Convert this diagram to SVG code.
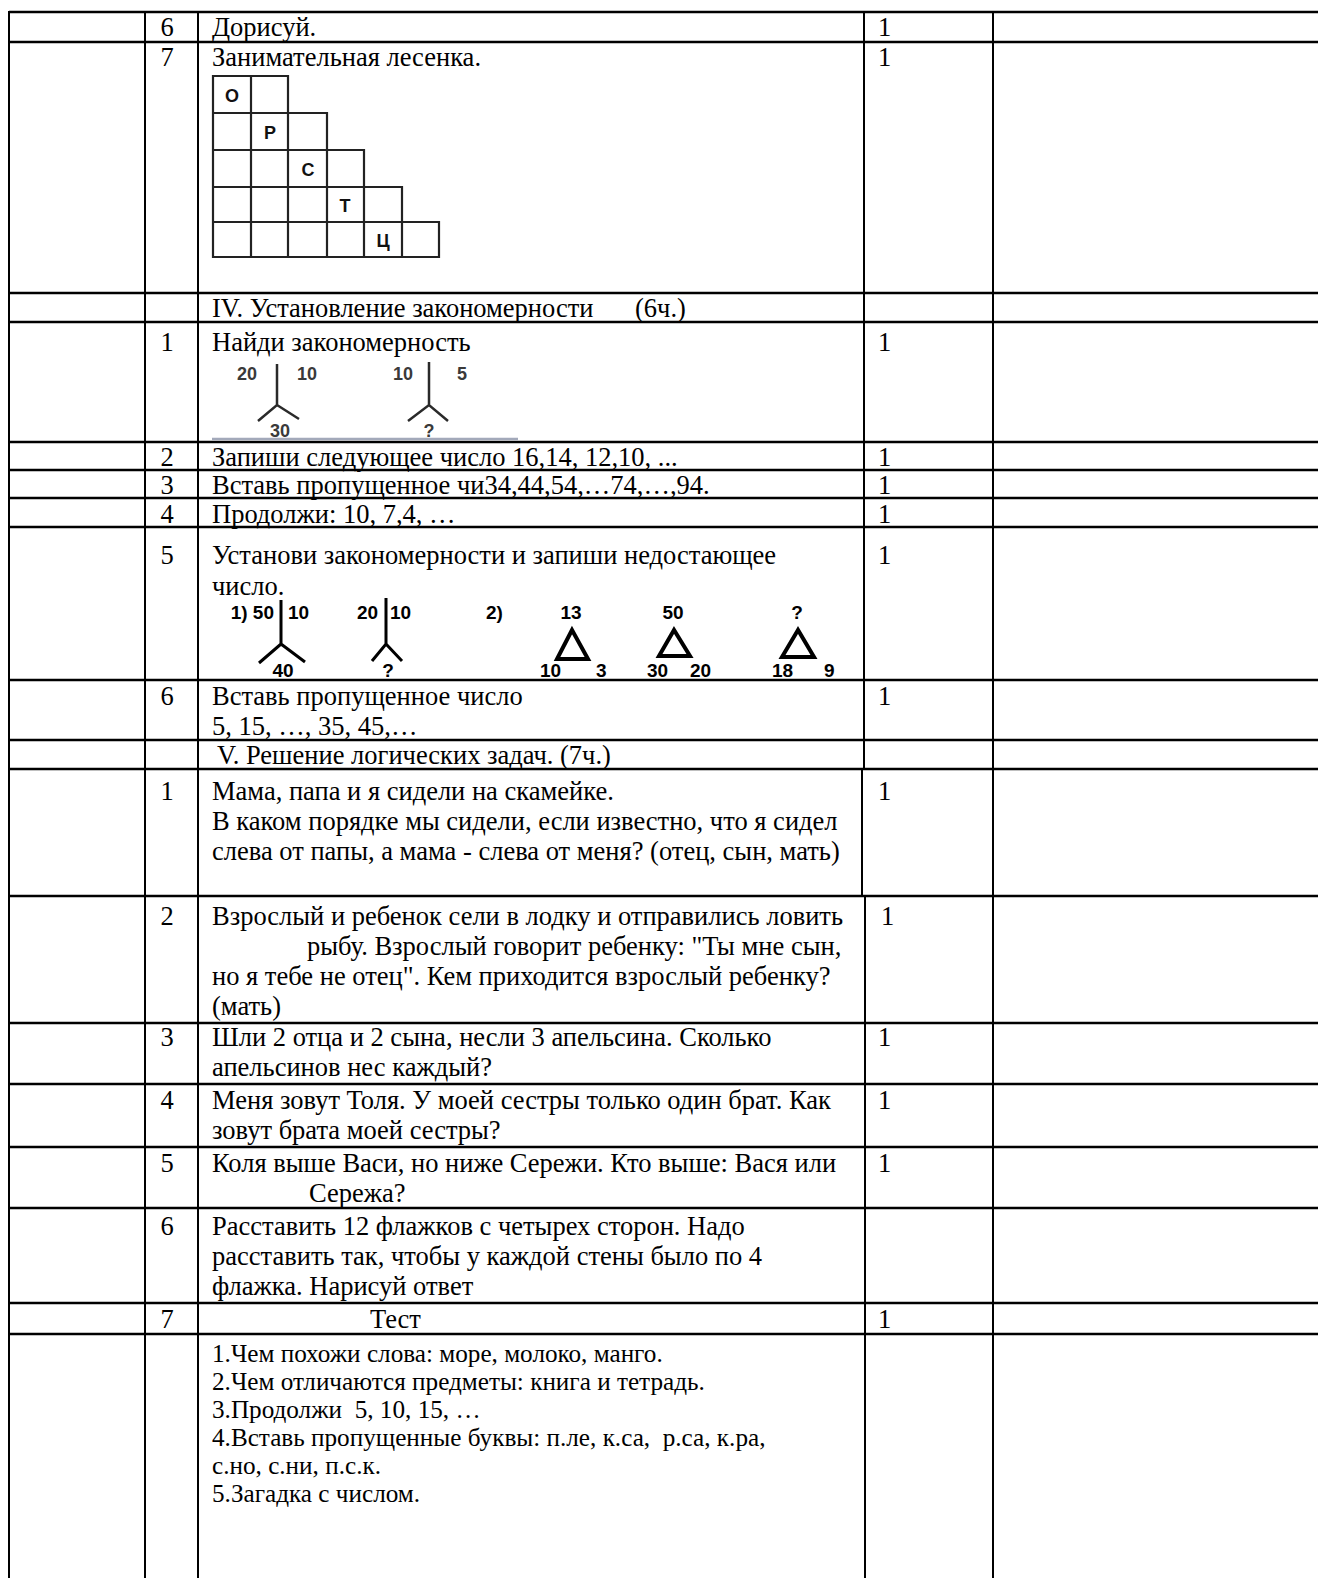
<svg xmlns="http://www.w3.org/2000/svg" width="1318" height="1578" viewBox="0 0 1318 1578">
<style>
.t{font-family:"Liberation Serif","Times New Roman",serif;font-size:26.5px;fill:#000;white-space:pre}
.l{font-family:"Liberation Serif","Times New Roman",serif;font-size:25.2px;fill:#000;white-space:pre}
.n{font-family:"Liberation Serif","Times New Roman",serif;font-size:26.5px;fill:#000;text-anchor:middle}
.h line{stroke:#000;stroke-width:2.5}
.v line{stroke:#000;stroke-width:2}
.st{fill:none;stroke:#222;stroke-width:2.2}
.sl{font-family:"Liberation Sans",Arial,sans-serif;font-weight:bold;font-size:18px;fill:#111;text-anchor:middle}
.fd{font-family:"Liberation Sans",Arial,sans-serif;font-weight:bold;font-size:18px;fill:#3a3a3a}
.fk{stroke:#2a2a2a;stroke-width:2.5;fill:none}
.fb{font-family:"Liberation Sans",Arial,sans-serif;font-weight:bold;font-size:19px;fill:#000}
.tk{stroke:#000;stroke-width:3;fill:none}
.tr{stroke:#000;stroke-width:4;fill:none;stroke-linejoin:miter}
</style>
<rect width="1318" height="1578" fill="#fff"/>
<g id="connectors">
<g class="h">
<line x1="9" y1="12" x2="1318" y2="12"/>
<line x1="9" y1="42" x2="1318" y2="42"/>
<line x1="9" y1="293" x2="1318" y2="293"/>
<line x1="9" y1="322" x2="1318" y2="322"/>
<line x1="9" y1="442" x2="1318" y2="442"/>
<line x1="9" y1="470" x2="1318" y2="470"/>
<line x1="9" y1="498" x2="1318" y2="498"/>
<line x1="9" y1="527" x2="1318" y2="527"/>
<line x1="9" y1="680" x2="1318" y2="680"/>
<line x1="9" y1="740" x2="1318" y2="740"/>
<line x1="9" y1="769" x2="1318" y2="769"/>
<line x1="9" y1="896" x2="1318" y2="896"/>
<line x1="9" y1="1023" x2="1318" y2="1023"/>
<line x1="9" y1="1084" x2="1318" y2="1084"/>
<line x1="9" y1="1147" x2="1318" y2="1147"/>
<line x1="9" y1="1208" x2="1318" y2="1208"/>
<line x1="9" y1="1303" x2="1318" y2="1303" stroke-width="3"/>
<line x1="9" y1="1334" x2="1318" y2="1334" stroke-width="3"/>
</g>
<g class="v">
<line x1="9" y1="11" x2="9" y2="1578"/>
<line x1="145" y1="11" x2="145" y2="1578"/>
<line x1="198" y1="11" x2="198" y2="1578"/>
<line x1="864" y1="11" x2="864" y2="769"/>
<line x1="862" y1="769" x2="862" y2="896"/>
<line x1="865" y1="896" x2="865" y2="1578"/>
<line x1="993" y1="11" x2="993" y2="1578"/>
</g>
</g>
<g id="row1">
<text class="n" x="167" y="36">6</text>
<text class="t" x="212" y="36">Дорисуй.</text>
<text class="t" x="878" y="36">1</text>
</g>
<g id="row2">
<text class="n" x="167" y="66">7</text>
<text class="t" x="212" y="66">Занимательная лесенка.</text>
<text class="t" x="878" y="66">1</text>
<g id="staircase">
<path class="st" d="M213 76H288V113H327V150H364V187H402V222H439V257H213Z"/>
<path class="st" d="M213 113H288M213 150H327M213 187H364M213 222H402M251 76V257M288 113V257M327 150V257M364 187V257M402 222V257"/>
<text class="sl" x="232" y="102">О</text>
<text class="sl" x="270" y="139">Р</text>
<text class="sl" x="308" y="176">С</text>
<text class="sl" x="345" y="212">Т</text>
<text class="sl" x="383" y="247">Ц</text>
</g>
</g>
<g id="section4">
<text class="t" x="212" y="317">IV. Установление закономерности</text>
<text class="t" x="635" y="317">(6ч.)</text>
</g>
<g id="row4-1">
<text class="n" x="167" y="351">1</text>
<text class="t" x="212" y="351">Найди закономерность</text>
<text class="t" x="878" y="351">1</text>
<text class="fd" x="237" y="380">20</text>
<text class="fd" x="297" y="380">10</text>
<path class="fk" d="M277 364V405M258 421L277 405L299 419"/>
<text class="fd" x="280" y="437" text-anchor="middle">30</text>
<text class="fd" x="393" y="380">10</text>
<text class="fd" x="457" y="380">5</text>
<path class="fk" d="M429 362V405M408 421L429 405L448 421"/>
<text class="fd" x="429" y="437" text-anchor="middle">?</text>
<line x1="212" y1="439" x2="518" y2="439" stroke="#a3a9ba" stroke-width="2.5"/>
</g>
<g id="row4-2">
<text class="n" x="167" y="466">2</text>
<text class="t" x="212" y="466">Запиши следующее число 16,14, 12,10, ...</text>
<text class="t" x="878" y="466">1</text>
</g>
<g id="row4-3">
<text class="n" x="167" y="494">3</text>
<text class="t" x="212" y="494">Вставь пропущенное чи34,44,54,…74,…,94.</text>
<text class="t" x="878" y="494">1</text>
</g>
<g id="row4-4">
<text class="n" x="167" y="523">4</text>
<text class="t" x="212" y="523">Продолжи: 10, 7,4, …</text>
<text class="t" x="878" y="523">1</text>
</g>
<g id="row4-5">
<text class="n" x="167" y="564">5</text>
<text class="t" x="212" y="564">Установи закономерности и запиши недостающее</text>
<text class="t" x="212" y="595">число.</text>
<text class="t" x="878" y="564">1</text>
<text class="fb" x="274" y="619" text-anchor="end">1) 50</text>
<text class="fb" x="288" y="619">10</text>
<path class="tk" d="M281 600V644M259 663L281 644L305 662"/>
<text class="fb" x="283" y="677" text-anchor="middle">40</text>
<text class="fb" x="357" y="619">20</text>
<text class="fb" x="390" y="619">10</text>
<path class="tk" d="M386 598V644M372 661L386 644L402 661"/>
<text class="fb" x="388" y="677" text-anchor="middle">?</text>
<text class="fb" x="486" y="619">2)</text>
<text class="fb" x="571" y="619" text-anchor="middle">13</text>
<path class="tr" d="M572 630L557 659H588Z"/>
<text class="fb" x="540" y="677">10</text>
<text class="fb" x="596" y="677">3</text>
<text class="fb" x="673" y="619" text-anchor="middle">50</text>
<path class="tr" d="M674 630L659 656H690Z"/>
<text class="fb" x="647" y="677">30</text>
<text class="fb" x="690" y="677">20</text>
<text class="fb" x="797" y="619" text-anchor="middle">?</text>
<path class="tr" d="M798 630L782 657H814Z"/>
<text class="fb" x="772" y="677">18</text>
<text class="fb" x="824" y="677">9</text>
</g>
<g id="row4-6">
<text class="n" x="167" y="705">6</text>
<text class="t" x="212" y="705">Вставь пропущенное число</text>
<text class="t" x="212" y="735">5, 15, …, 35, 45,…</text>
<text class="t" x="878" y="705">1</text>
</g>
<g id="section5">
<text class="t" x="217" y="764">V. Решение логических задач. (7ч.)</text>
</g>
<g id="row5-1">
<text class="n" x="167" y="800">1</text>
<text class="t" x="212" y="800">Мама, папа и я сидели на скамейке.</text>
<text class="t" x="212" y="830">В каком порядке мы сидели, если известно, что я сидел</text>
<text class="t" x="212" y="860">слева от папы, а мама - слева от меня? (отец, сын, мать)</text>
<text class="t" x="878" y="800">1</text>
</g>
<g id="row5-2">
<text class="n" x="167" y="925">2</text>
<text class="t" x="212" y="925">Взрослый и ребенок сели в лодку и отправились ловить</text>
<text class="t" x="307" y="955">рыбу. Взрослый говорит ребенку: "Ты мне сын,</text>
<text class="t" x="212" y="985">но я тебе не отец". Кем приходится взрослый ребенку?</text>
<text class="t" x="212" y="1015">(мать)</text>
<text class="t" x="881" y="925">1</text>
</g>
<g id="row5-3">
<text class="n" x="167" y="1046">3</text>
<text class="t" x="212" y="1046">Шли 2 отца и 2 сына, несли 3 апельсина. Сколько</text>
<text class="t" x="212" y="1076">апельсинов нес каждый?</text>
<text class="t" x="878" y="1046">1</text>
</g>
<g id="row5-4">
<text class="n" x="167" y="1109">4</text>
<text class="t" x="212" y="1109">Меня зовут Толя. У моей сестры только один брат. Как</text>
<text class="t" x="212" y="1139">зовут брата моей сестры?</text>
<text class="t" x="878" y="1109">1</text>
</g>
<g id="row5-5">
<text class="n" x="167" y="1172">5</text>
<text class="t" x="212" y="1172">Коля выше Васи, но ниже Сережи. Кто выше: Вася или</text>
<text class="t" x="309" y="1202">Сережа?</text>
<text class="t" x="878" y="1172">1</text>
</g>
<g id="row5-6">
<text class="n" x="167" y="1235">6</text>
<text class="t" x="212" y="1235">Расставить 12 флажков с четырех сторон. Надо</text>
<text class="t" x="212" y="1265">расставить так, чтобы у каждой стены было по 4</text>
<text class="t" x="212" y="1295">флажка. Нарисуй ответ</text>
</g>
<g id="row5-7">
<text class="n" x="167" y="1328">7</text>
<text class="t" x="370" y="1328">Тест</text>
<text class="t" x="878" y="1328">1</text>
</g>
<g id="test-list">
<text class="l" x="212" y="1362">1.Чем похожи слова: море, молоко, манго.</text>
<text class="l" x="212" y="1390">2.Чем отличаются предметы: книга и тетрадь.</text>
<text class="l" x="212" y="1418">3.Продолжи  5, 10, 15, …</text>
<text class="l" x="212" y="1446">4.Вставь пропущенные буквы: п.ле, к.са,  р.са, к.ра,</text>
<text class="l" x="212" y="1474">с.но, с.ни, п.с.к.</text>
<text class="l" x="212" y="1502">5.Загадка с числом.</text>
</g>
</svg>
